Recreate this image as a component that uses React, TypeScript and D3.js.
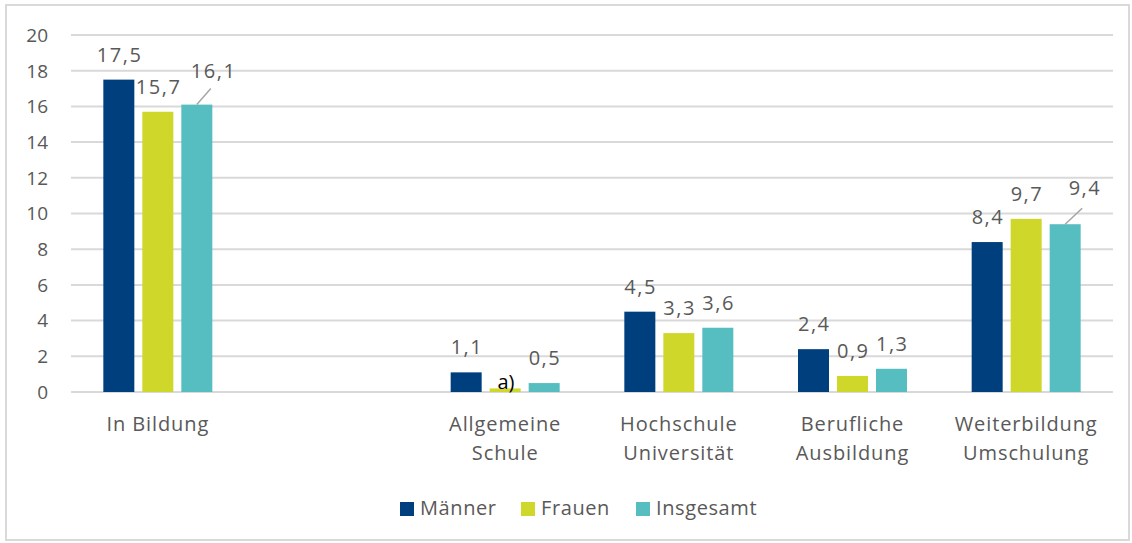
import * as d3 from 'd3';

const categories: string[][] = [
  ['In Bildung'],
  [],
  ['Allgemeine', 'Schule'],
  ['Hochschule', 'Universität'],
  ['Berufliche', 'Ausbildung'],
  ['Weiterbildung', 'Umschulung'],
];
const seriesNames = ['Männer', 'Frauen', 'Insgesamt'];
const maenner = [17.5, null, 1.1, 4.5, 2.4, 8.4];
const frauen = [15.7, null, 0.2, 3.3, 0.9, 9.7];
const insgesamt = [16.1, null, 0.5, 3.6, 1.3, 9.4];
const yTicks = [0, 2, 4, 6, 8, 10, 12, 14, 16, 18, 20];
// label text overrides (series index, category index)
const labelOverride: Record<string, string> = { '1-2': 'a)' };

const colors = ['#003f7d', '#cfd72a', '#56bec0'];
const FONT = '"Open Sans", sans-serif';
const W = 1132;
const H = 543;

// labels that Excel moved out, with a leader line
const moved: Record<string, { dx: number; dy: number }> = {
  '2-0': { dx: 16, dy: -27 },
  '2-5': { dx: 19, dy: -29 },
};

export default function App() {
  const x = d3.scaleBand<number>().domain(categories.map((_, i) => i)).range([71, 1113]);
  const inner = d3.scaleBand<string>().domain(seriesNames).range([-54.5, 54.5]).paddingInner(0.205);
  const y = d3.scaleLinear().domain([0, 20]).range([392, 35]);
  const allSeries = [maenner, frauen, insgesamt];

  return (
    <svg width={W} height={H} style={{ position: 'absolute', left: 0, top: 0, fontFamily: FONT }}>
      <rect x={6} y={5} width={1123} height={535} fill="#fff" stroke="#d9d9d9" strokeWidth={2} />
      {yTicks.map((t) => (
        <g key={t}>
          <line x1={71} x2={1113} y1={y(t)} y2={y(t)} stroke="#d9d9d9" strokeWidth={2} />
          <text x={48} y={y(t)} dy="0.36em" textAnchor="end" fontSize={19} fill="#595959">
            {t}
          </text>
        </g>
      ))}
      {allSeries.map((vals, s) =>
        vals.map((v, c) => {
          if (v == null) return null;
          const cx = (x(c) as number) + x.bandwidth() / 2;
          const bx = cx + (inner(seriesNames[s]) as number);
          const bw = inner.bandwidth();
          const top = y(v);
          const key = `${s}-${c}`;
          const txt = labelOverride[key] ?? d3.format('.1f')(v).replace('.', ',');
          const mv = moved[key];
          const isA = labelOverride[key] != null;
          let lx = bx + bw / 2;
          let ly = top - 18;
          if (mv) {
            lx += mv.dx;
            ly = top + mv.dy;
          }
          if (isA) ly = top + 1;
          return (
            <g key={key}>
              <rect x={bx} y={top} width={bw} height={y(0) - top} fill={colors[s]} />
              {mv && (
                <line
                  x1={bx + bw / 2}
                  y1={top}
                  x2={lx - 2}
                  y2={top - 16}
                  stroke="#a6a6a6"
                  strokeWidth={1.5}
                />
              )}
              <text
                x={lx + 0.75}
                y={ly}
                textAnchor="middle"
                fontSize={20}
                letterSpacing={isA ? 0 : 1.5}
                fill={isA ? '#000' : '#595959'}
              >
                {txt}
              </text>
            </g>
          );
        })
      )}
      {categories.map((lines, c) => (
        <text key={c} textAnchor="middle" fontSize={20} letterSpacing={0.9} fill="#595959">
          {lines.map((l, i) => (
            <tspan key={i} x={(x(c) as number) + x.bandwidth() / 2} y={431 + i * 29}>
              {l}
            </tspan>
          ))}
        </text>
      ))}
      {seriesNames.map((n, i) => {
        const lx = [400, 521, 636][i];
        return (
          <g key={n}>
            <rect x={lx} y={502} width={14} height={14} fill={colors[i]} />
            <text x={lx + 20} y={515} fontSize={20} letterSpacing={0.6} fill="#595959">
              {n}
            </text>
          </g>
        );
      })}
    </svg>
  );
}
